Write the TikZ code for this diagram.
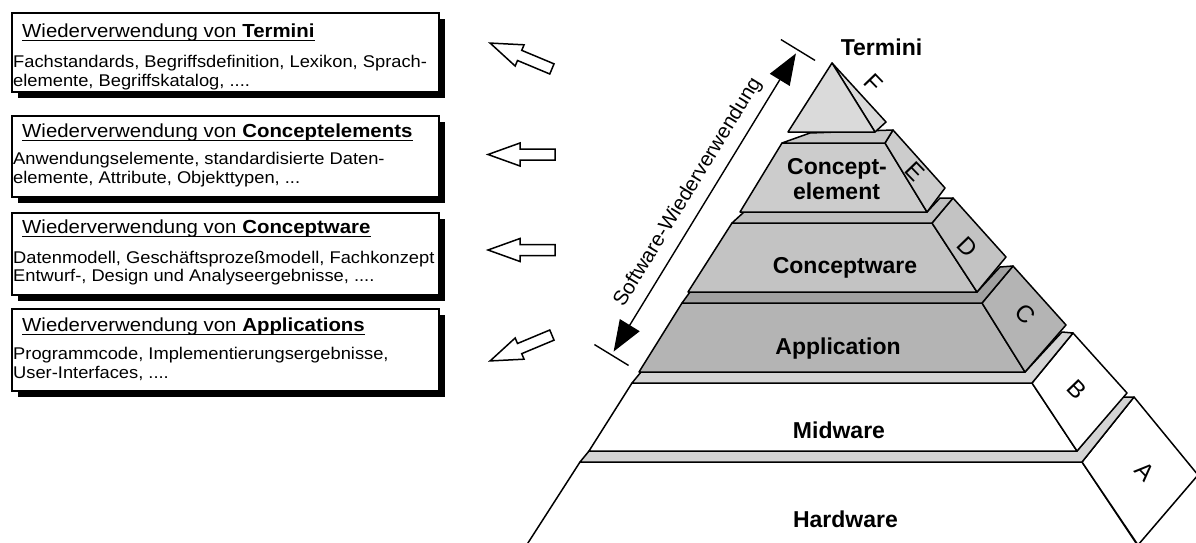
\documentclass[tikz,border=0pt]{standalone}
\usepackage{fontspec}
\setmainfont{Liberation Sans}
\newfontfamily\boxfont{Liberation Sans}[FakeStretch=1.08]
\usetikzlibrary{arrows.meta,calc,shadows}
\definecolor{gStrip}{gray}{0.83}
\definecolor{gApp}{gray}{0.705}
\definecolor{gAppTop}{gray}{0.63}
\definecolor{gCW}{gray}{0.765}
\definecolor{gCWTop}{gray}{0.745}
\definecolor{gCE}{gray}{0.80}
\definecolor{gCETop}{gray}{0.78}
\definecolor{gTerm}{gray}{0.855}
\begin{document}
\begin{tikzpicture}[x=1pt,y=-1pt,
  face/.style={draw=black, line width=1.5pt, line join=round},
  infobox/.style={draw=black, fill=white, line width=1.6pt, inner sep=0pt, anchor=north west,
     minimum width=427pt, drop shadow={shadow xshift=6pt, shadow yshift=-6pt, fill=black, opacity=1}},
  titletext/.style={inner sep=0pt, anchor=base west, font=\boxfont\fontsize{18.9}{20}\selectfont},
  bodytext/.style={inner sep=0pt, anchor=base west, font=\boxfont\fontsize{16.95}{18.6}\selectfont},
  uline/.style={line width=1.1pt},
  layerlabel/.style={inner sep=0pt, anchor=base, font=\fontsize{23}{24}\selectfont\bfseries},
  sidelabel/.style={inner sep=0pt, rotate=-46, font=\fontsize{24}{25}\selectfont},
  blockarrow/.pic={\draw[fill=white, line width=1.5pt, line join=miter]
     (-33.5,0) -- (-1.5,-11.5) -- (-1.5,-5.5) -- (33.5,-5.5) -- (33.5,5.5) -- (-1.5,5.5) -- (-1.5,11.5) -- cycle;},
  swline/.style={line width=1.4pt},
  sw/.style={swline, {Triangle[length=31pt,width=23pt]}-{Triangle[length=31pt,width=23pt]}, shorten <=4pt, shorten >=4pt}
]
\useasboundingbox (0,0) rectangle (1196,543);
\clip (0,0) rectangle (1196,543);

% ---------- boxes ----------
\node[infobox, minimum height=79pt] (box1) at (11,12) {};
\node[infobox, minimum height=81pt] (box2) at (11,115) {};
\node[infobox, minimum height=82pt] (box3) at (11,212) {};
\node[infobox, minimum height=82pt] (box4) at (11,308) {};

\node[titletext] (t1) at (22,37.7) {Wiederverwendung von \textbf{Termini}};
\node[bodytext] (b1a) at (13,67.7) {Fachstandards, Begriffsdefinition, Lexikon, Sprach-};
\node[bodytext] (b1b) at (13,86) {elemente, Begriffskatalog, ....};

\node[titletext] (t2) at (22,137.3) {Wiederverwendung von \textbf{Conceptelements}};
\node[bodytext] (b2a) at (13,164) {Anwendungselemente, standardisierte Daten-};
\node[bodytext] (b2b) at (13,183.3) {elemente, Attribute, Objekttypen, ...};

\node[titletext] (t3) at (22,233.3) {Wiederverwendung von \textbf{Conceptware}};
\node[bodytext] (b3a) at (13,263.3) {Datenmodell, Geschäftsprozeßmodell, Fachkonzept};
\node[bodytext] (b3b) at (13,281.7) {Entwurf-, Design und Analyseergebnisse, ....};

\node[titletext] (t4) at (22,331.7) {Wiederverwendung von \textbf{Applications}};
\node[bodytext] (b4a) at (13,359.3) {Programmcode, Implementierungsergebnisse,};
\node[bodytext] (b4b) at (13,378.3) {User-Interfaces, ....};

\foreach \t in {t1,t2,t3,t4}
  \draw[uline] ([yshift=-3pt]\t.base west) -- ([yshift=-3pt]\t.base east);

% ---------- block arrows ----------
\pic[rotate=-22.7] at (521,56) {blockarrow};
\pic at (521.5,154.5) {blockarrow};
\pic at (521.5,250) {blockarrow};
\pic[rotate=22.7] at (521,348) {blockarrow};

% ---------- pyramid ----------
% Hardware
\draw[face, fill=white] (580,462) -- (1082,462) -- (1138,546) -- (526,546) -- cycle;
\draw[face, fill=white] (1082,462) -- (1134,397) -- (1198,475) -- (1138,545) -- cycle;
\draw[face, fill=gStrip] (580,462) -- (589,451) -- (1077,451) -- (1122,397) -- (1134,397) -- (1082,462) -- cycle;
% Midware
\draw[face, fill=white] (632,383) -- (1032,383) -- (1077,451) -- (589,451) -- cycle;
\draw[face, fill=white] (1032,383) -- (1073,333) -- (1127,393) -- (1077,451) -- cycle;
\draw[face, fill=gStrip] (632,383) -- (641,372) -- (1025,372) -- (1062,332) -- (1073,333) -- (1032,383) -- cycle;
% Application
\draw[face, fill=gApp] (682,303) -- (982,303) -- (1025,372) -- (639,372) -- cycle;
\draw[face, fill=gApp] (982,303) -- (1013,266) -- (1066,325) -- (1025,372) -- cycle;
\draw[face, fill=gAppTop] (682,303) -- (690,292) -- (977,292) -- (1000,267) -- (1013,266) -- (982,303) -- cycle;
% Conceptware
\draw[face, fill=gCW] (732,223) -- (932,223) -- (977,292) -- (688,292) -- cycle;
\draw[face, fill=gCW] (932,223) -- (953,198) -- (1006,257) -- (977,292) -- cycle;
\draw[face, fill=gCWTop] (732,223) -- (744,212) -- (927,212) -- (940,198) -- (953,198) -- (932,223) -- cycle;
% Concept-element
\draw[face, fill=gCE] (782,143) -- (885,143) -- (927,212) -- (740,212) -- cycle;
\draw[face, fill=gCE] (885,143) -- (893,130) -- (945,188) -- (927,212) -- cycle;
\draw[face, fill=gCETop] (782,143) -- (810,133) -- (893,130) -- (885,143) -- cycle;
% Termini
\draw[face, fill=gTerm] (832,63) -- (886,122) -- (875,132) -- cycle;
\draw[face, fill=gTerm] (832,63) -- (875,132) -- (788,132) -- cycle;

% layer labels
\node[layerlabel] (lTermini) at (881.5,56) {Termini};
\node[layerlabel] (lCE1) at (837,174) {Concept-};
\node[layerlabel] (lCE2) at (836.5,199) {element};
\node[layerlabel] (lCW) at (845,273) {Conceptware};
\node[layerlabel] (lApp) at (838,354) {Application};
\node[layerlabel] (lMid) at (839,438) {Midware};
\node[layerlabel] (lHW) at (845.5,527) {Hardware};

% side letters
\node[sidelabel] (sA) at (1145,472) {A};
\node[sidelabel] (sB) at (1077,390) {B};
\node[sidelabel] (sC) at (1025,314) {C};
\node[sidelabel] (sD) at (967,247) {D};
\node[sidelabel] (sE) at (915,172) {E};
\node[sidelabel] (sF) at (874,83) {F};

% ---------- Software-Wiederverwendung ----------
\coordinate (swB) at (611.5,355);
\coordinate (swT) at (798,50);
\draw[swline] ($(swB)!20pt!90:(swT)$) -- ($(swB)!20pt!-90:(swT)$);
\draw[swline] ($(swT)!20pt!90:(swB)$) -- ($(swT)!20pt!-90:(swB)$);
\draw[sw] (swB) -- (swT) node[midway, sloped, above=6pt, font=\fontsize{20.5}{21}\selectfont] (swlabel) {Software-Wiederverwendung};
\end{tikzpicture}
\end{document}
